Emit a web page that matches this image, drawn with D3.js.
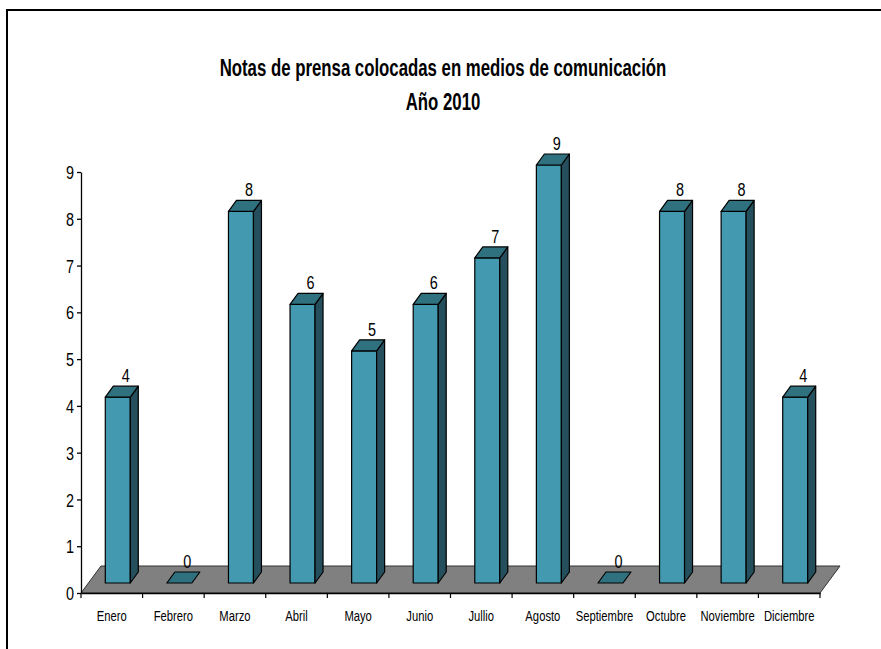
<!DOCTYPE html>
<html>
<head>
<meta charset="utf-8">
<script src="https://cdn.jsdelivr.net/npm/d3@7"></script>
<style>
  body { margin: 0; background: #fff; }
  svg text { font-family: "Liberation Sans", Arial, sans-serif; }
</style>
</head>
<body>
<div class="canvas"></div>
<script>
const months = ['Enero', 'Febrero', 'Marzo', 'Abril', 'Mayo', 'Junio', 'Jullio', 'Agosto',
  'Septiembre', 'Octubre', 'Noviembre', 'Diciembre'];
const notas = [4, 0, 8, 6, 5, 6, 7, 9, 0, 8, 8, 4];
const yTicks = [0, 1, 2, 3, 4, 5, 6, 7, 8, 9];
const titleLines = ['Notas de prensa colocadas en medios de comunicación', 'Año 2010'];

const svg = d3.select('.canvas')
  .append('svg')
  .attr('width', 881)
  .attr('height', 649);

// no Arial Narrow here, so squeeze Liberation Sans sideways
function condense(k) {
  return function (sel) {
    sel.each(function () {
      const t = d3.select(this);
      const tx = +t.attr('x') || 0, ty = +t.attr('y') || 0;
      t.attr('x', 0).attr('y', 0)
       .attr('transform', `translate(${tx},${ty}) scale(${k},1)`);
    });
  };
}

// frame (runs off the right and bottom edge)
svg.append('rect')
    .attr('x', 7).attr('y', 10)
    .attr('width', 950).attr('height', 750)
    .style('fill', 'none')
    .style('stroke', '#000')
    .style('stroke-width', 2);

svg.selectAll('.title')
  .data(titleLines)
  .enter().append('text')
    .attr('class', 'title')
    .attr('x', 443)
    .attr('y', (d, i) => 76 + i * 34)
    .attr('text-anchor', 'middle')
    .style('font-size', '23px')
    .style('font-weight', 'bold')
    .text(d => d)
    .call(condense(0.73));

const x = d3.scaleBand().domain(months).range([81, 820]).padding(0);
const y = d3.scaleLinear().domain([0, 9]).range([593, 172]);
// the bars stand in the middle of the floor, so their front plane sits a bit higher
const yBar = d3.scaleLinear().domain([0, 9]).range([583, 165]);

const depth = { dx: 20, dy: -27 };   // floor depth
const bd = { dx: 8, dy: -11 };       // bar depth
const barW = 25;
const shift = 6;

// floor
const x0 = x.range()[0], x1 = x.range()[1], y0 = y(0);
svg.append('path')
    .attr('d', `M${x0},${y0}L${x1},${y0}L${x1 + depth.dx},${y0 + depth.dy}L${x0 + depth.dx},${y0 + depth.dy}Z`)
    .style('fill', '#808080')
    .style('stroke', '#333')
    .style('stroke-width', 1);

// bars
const bars = svg.selectAll('.bar')
  .data(months.map((m, i) => ({ m, v: notas[i] })))
  .enter().append('g')
    .attr('class', 'bar');

bars.each(function (d) {
  const g = d3.select(this);
  const l = x(d.m) + x.bandwidth() / 2 - barW / 2 + shift;
  const r = l + barW;
  const b = yBar(0);
  const t = yBar(d.v);
  if (d.v > 0) {
    g.append('path')
        .attr('d', `M${l},${b}L${r},${b}L${r},${t}L${l},${t}Z`)
        .style('fill', '#4399af');
    g.append('path')
        .attr('d', `M${r},${b}L${r + bd.dx},${b + bd.dy}L${r + bd.dx},${t + bd.dy}L${r},${t}Z`)
        .style('fill', '#254f5c');
  }
  g.append('path')
      .attr('d', `M${l},${t}L${r},${t}L${r + bd.dx},${t + bd.dy}L${l + bd.dx},${t + bd.dy}Z`)
      .style('fill', '#30717f');
  g.selectAll('path')
      .style('stroke', '#000')
      .style('stroke-width', 1.2)
      .style('stroke-linejoin', 'round');
  g.append('text')
      .attr('x', l + barW / 2 + bd.dx)
      .attr('y', t + bd.dy - 4)
      .attr('text-anchor', 'middle')
      .style('font-size', '19px')
      .text(d.v)
      .call(condense(0.76));
});

// y axis
const yAxis = svg.append('g')
    .attr('transform', `translate(${x0},0)`)
    .call(d3.axisLeft(y).tickValues(yTicks).tickSize(4).tickSizeOuter(0).tickPadding(3));
yAxis.selectAll('text').style('font-size', '19px').style('fill', '#000')
    .attr('dy', '0.35em').call(condense(0.76));
yAxis.selectAll('line, path').style('stroke', '#000').style('stroke-width', 1.3);

// x axis
const xAxis = svg.append('g')
    .attr('transform', `translate(0,${y0})`)
    .call(d3.axisBottom(x).tickSize(0).tickSizeOuter(0).tickPadding(17));
xAxis.selectAll('text').style('font-size', '15px').style('fill', '#000').call(condense(0.75));
xAxis.select('.domain').style('stroke', '#000').style('stroke-width', 1.6);

xAxis.selectAll('.bound')
  .data(d3.range(months.length + 1))
  .enter().append('line')
    .attr('class', 'bound')
    .attr('x1', i => x0 + i * x.step())
    .attr('x2', i => x0 + i * x.step())
    .attr('y1', 0).attr('y2', 5)
    .style('stroke', '#000')
    .style('stroke-width', 1.2);
</script>
</body>
</html>
